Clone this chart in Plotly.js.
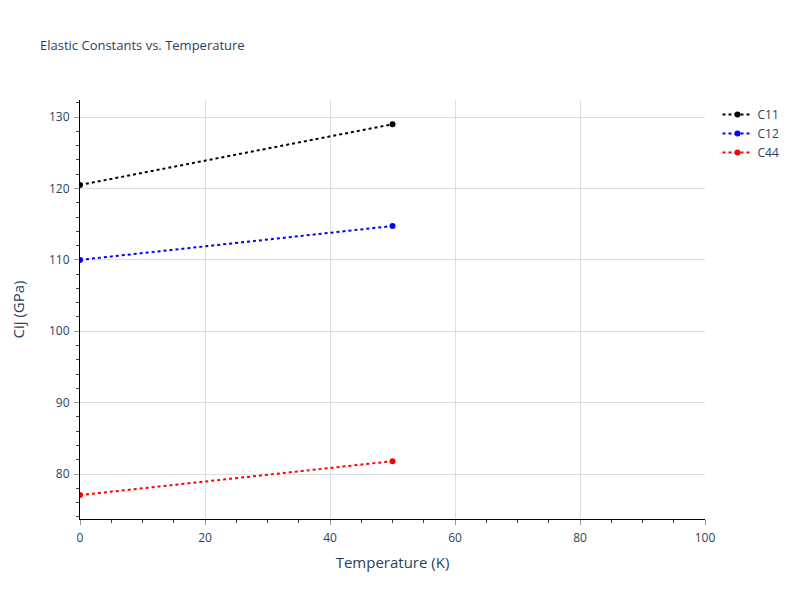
<!DOCTYPE html>
<html>
<head>
<meta charset="utf-8">
<script src="https://cdn.plot.ly/plotly-3.0.1.min.js"></script>
<style>html,body{margin:0;padding:0;background:#fff;}#chart{width:800px;height:600px;}</style>
</head>
<body>
<div id="chart"></div>
<script>
const temperature = [0, 50];
const c11 = [120.5, 129.0];
const c12 = [110.0, 114.75];
const c44 = [77.05, 81.8];
const seriesNames = ["C11", "C12", "C44"];
const seriesColors = ["black", "blue", "red"];
const seriesValues = [c11, c12, c44];

const traces = seriesValues.map((vals, i) => ({
  x: temperature,
  y: vals,
  name: seriesNames[i],
  mode: "lines+markers",
  type: "scatter",
  line: {color: seriesColors[i], dash: "dot", width: 2},
  marker: {color: seriesColors[i], size: 6}
}));

const axisCommon = {
  showline: true, linecolor: "black", linewidth: 1,
  ticks: "outside", ticklen: 5, tickcolor: "#999",
  gridcolor: "#dedede", zeroline: false,
  tickfont: {size: 12, color: "#2a3f5f"},
  minor: {ticks: "outside", ticklen: 3, tickcolor: "#444", showgrid: false}
};

const layout = {
  width: 800, height: 600,
  paper_bgcolor: "white", plot_bgcolor: "white",
  margin: {l: 80, r: 95, t: 100, b: 81},
  title: {text: "Elastic Constants vs. Temperature", x: 0.05, xanchor: "left", y: 0.925, yanchor: "middle", font: {size: 13, color: "#2a3f5f"}},
  font: {family: "Open Sans, verdana, arial, sans-serif", color: "#2a3f5f"},
  xaxis: Object.assign({}, axisCommon, {
    range: [0, 100], dtick: 20, minor: Object.assign({}, axisCommon.minor, {dtick: 5}),
    ticklabelstandoff: 3,
    title: {text: "Temperature (K)", font: {size: 15}, standoff: 12}
  }),
  yaxis: Object.assign({}, axisCommon, {
    range: [73.7, 132.4], dtick: 10, minor: Object.assign({}, axisCommon.minor, {dtick: 2}),
    ticklabelstandoff: 2,
    title: {text: "Cij (GPa)", font: {size: 15}, standoff: 20}
  }),
  legend: {x: 1.02, y: 1, font: {size: 12}},
  showlegend: true
};

Plotly.newPlot("chart", traces, layout, {displayModeBar: false});
</script>
</body>
</html>
